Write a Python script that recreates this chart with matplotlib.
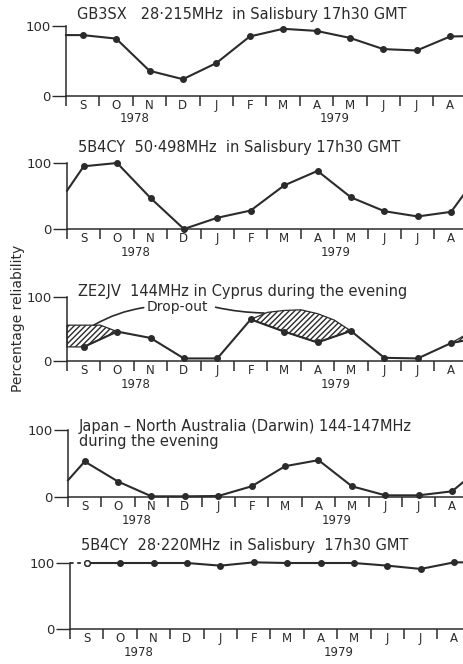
import numpy as np
import matplotlib
matplotlib.use('Agg')
from matplotlib import pyplot as plt
from matplotlib import transforms

MONTHS = ['S', 'O', 'N', 'D', 'J', 'F', 'M', 'A', 'M', 'J', 'J', 'A']
YEARS = ['1978', '1979']
YEAR_POS = [2.05, 8.05]

# reliability (%): value at the axis, Sep 78 .. Aug 79, then Sep 79 (runs off the edge)
GB3SX_28 = [87, 87, 82, 36, 24, 47, 85, 96, 93, 83, 67, 65, 85, 86]
B4CY_50 = [58, 95, 100, 47, 0, 17, 28, 66, 88, 48, 27, 19, 26, 95]
ZE2JV_144 = [np.nan, 22, 46, 36, 4, 4, 65, 46, 29, 47, 5, 4, 28, 38]
JAPAN_DARWIN = [25, 53, 23, 1, 1, 1.5, 16, 46, 55, 16, 2.5, 2.5, 8.5, 50]
B4CY_28 = [100, 100, 100, 100, 100, 96, 101, 100, 100, 100, 96, 91, 101, 101]

# drop-out (hatched) areas on the ZE2JV panel
DROP1_X = [0, 0.5, 1.0, 1.5]
DROP1_TOP = [56, 56, 56, 46]
DROP1_LOW = [22, 22, 34, 46]
DROP2_X = [5.5, 6.0, 6.5, 7.0, 7.5, 8.0, 8.5]
DROP2_TOP = [65, 76, 79, 80, 74, 64, 47]
DROP2_LOW = [65, 55.5, 46, 37.5, 29, 38, 47]
DROP3_X = [11.5, 12.5]
DROP3_TOP = [28, 58]
DROP3_LOW = [28, 38]

TITLES = ['GB3SX   28\u00b7215MHz  in Salisbury 17h30 GMT',
          '5B4CY  50\u00b7498MHz  in Salisbury 17h30 GMT',
          'ZE2JV  144MHz in Cyprus during the evening',
          'Japan \u2013 North Australia (Darwin) 144-147MHz\nduring the evening',
          '5B4CY  28\u00b7220MHz  in Salisbury  17h30 GMT']

INK = '#2b2b2b'
W, H = 464., 664.
MONTH_PX = 33.4

# panel placement in pixels: left axis x, y of 100, y of 0
PANELS = [(66, 26, 96), (67, 163, 229), (67, 297, 361), (68, 430, 497), (70, 563, 629)]
TITLE_Y = [116, 123, 109, 94, 127]

plt.rcParams['font.family'] = 'DejaVu Sans'
plt.rcParams['hatch.linewidth'] = 1.0
plt.rcParams['hatch.color'] = INK

fig = plt.figure(figsize=(W / 100, H / 100), dpi=100)
x = np.concatenate([[0], np.arange(len(MONTHS)) + 0.5, [len(MONTHS) + 0.5]])
series = [GB3SX_28, B4CY_50, ZE2JV_144, JAPAN_DARWIN, B4CY_28]

for n, (left, ytop, ybot) in enumerate(PANELS):
    ax = fig.add_axes([left / W, 1 - ybot / H, 13 * MONTH_PX / W, (ybot - ytop) / H])
    ax.set_xlim(0, 13)
    ax.set_ylim(0, 100)
    ax.patch.set_alpha(0)
    for s in ('top', 'right'):
        ax.spines[s].set_visible(False)
    ax.spines['left'].set_bounds(0, 100)
    for s in ('left', 'bottom'):
        ax.spines[s].set_linewidth(1.1)
        ax.spines[s].set_color(INK)

    ax.set_yticks([0, 100])
    ax.set_yticklabels(['0', '100'])
    ax.tick_params(axis='y', length=10, width=1, color=INK, labelcolor=INK,
                   labelsize=9.5, pad=1)
    ax.set_xticks(np.arange(0, 13))
    ax.set_xticklabels([])
    ax.tick_params(axis='x', which='major', length=7, width=1.1, color=INK)
    ax.set_xticks(np.arange(len(MONTHS)) + 0.5, minor=True)
    ax.set_xticklabels(MONTHS, minor=True)
    ax.tick_params(axis='x', which='minor', length=0, pad=2.5, labelsize=8.5,
                   labelcolor=INK)
    below = transforms.offset_copy(ax.transData, fig, y=-23, units='dots')
    for yr, xp in zip(YEARS, YEAR_POS):
        ax.text(xp, 0, yr, transform=below, ha='center', va='center',
                fontsize=8.5, color=INK)

    vals = np.array(series[n], dtype=float)
    if n == 4:
        ax.plot(x[:2], vals[:2], color=INK, lw=1.3, ls=(0, (2, 2)), clip_on=False)
        ax.plot(x[1:], vals[1:], color=INK, lw=1.5, marker='o', ms=4, clip_on=False)
        ax.plot(x[1], vals[1], 'o', ms=4, mfc='white', mec=INK, clip_on=False)
    else:
        ax.plot(x, vals, color=INK, lw=1.5, marker='o', ms=4, clip_on=False,
                markevery=list(range(1, len(x))))

    ax.text(0.33, TITLE_Y[n], TITLES[n], ha='left', va='center', fontsize=10.5,
            color=INK, linespacing=1.0)

    if n == 2:
        for dx, top, low in [(DROP1_X, DROP1_TOP, DROP1_LOW),
                             (DROP2_X, DROP2_TOP, DROP2_LOW),
                             (DROP3_X, DROP3_TOP, DROP3_LOW)]:
            ax.fill_between(dx, low, top, facecolor='none', edgecolor=INK,
                            hatch='//////', linewidth=0.9, clip_on=False)
        ax.annotate('Drop-out', xy=(0.8, 56), xytext=(3.3, 84), ha='center',
                    va='center', fontsize=10, color=INK,
                    arrowprops=dict(arrowstyle='-', color=INK, lw=1.2,
                                    shrinkA=0, shrinkB=0,
                                    connectionstyle='arc3,rad=0.1',
                                    relpos=(0, 0.5)))
        ax.annotate('', xy=(5.9, 75), xytext=(4.45, 84),
                    arrowprops=dict(arrowstyle='-', color=INK, lw=1.2,
                                    shrinkA=0, shrinkB=0,
                                    connectionstyle='arc3,rad=0.05'))

fig.text(18 / W, 1 - 318 / H, 'Percentage reliability', rotation=90,
         ha='center', va='center', fontsize=10, color=INK)

fig.savefig('out.png', dpi=100)
